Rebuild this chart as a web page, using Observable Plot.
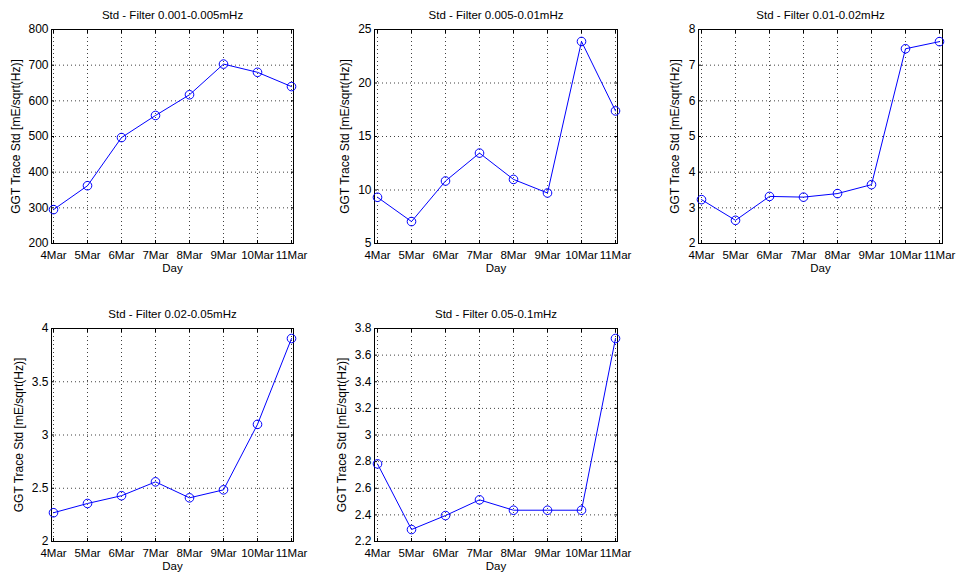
<!DOCTYPE html>
<html><head><meta charset="utf-8">
<script src="https://cdn.jsdelivr.net/npm/d3@7"></script>
<script src="https://cdn.jsdelivr.net/npm/@observablehq/plot@0.6"></script>
<style>
html,body{margin:0;padding:0;background:#fff;}
#wrap{position:relative;width:957px;height:574px;overflow:hidden;background:#fff;}
#wrap svg{position:absolute;}
</style></head><body><div id="wrap"></div>
<script>
const days = ["4Mar","5Mar","6Mar","7Mar","8Mar","9Mar","10Mar","11Mar"];
const titles = ["Std - Filter 0.001-0.005mHz","Std - Filter 0.005-0.01mHz","Std - Filter 0.01-0.02mHz","Std - Filter 0.02-0.05mHz","Std - Filter 0.05-0.1mHz"];
const xLabel = "Day";
const yLabel = "GGT Trace Std [mE/sqrt(Hz)]";

const std1 = [295, 362, 497, 559, 617, 703, 680, 640];
const std2 = [9.32, 7.05, 10.84, 13.45, 10.99, 9.72, 23.88, 17.39];
const std3 = [3.23, 2.65, 3.32, 3.30, 3.40, 3.65, 7.46, 7.66];
const std4 = [2.27, 2.357, 2.43, 2.56, 2.41, 2.485, 3.10, 3.906];
const std5 = [2.783, 2.29, 2.395, 2.513, 2.435, 2.435, 2.435, 3.725];

const ticks1 = [200, 300, 400, 500, 600, 700, 800];
const ticks2 = [5, 10, 15, 20, 25];
const ticks3 = [2, 3, 4, 5, 6, 7, 8];
const ticks4 = [2, 2.5, 3, 3.5, 4];
const ticks5 = [2.2, 2.4, 2.6, 2.8, 3, 3.2, 3.4, 3.6, 3.8];

// layout: frame left, right, top, bottom, y-label offset, right margin
const layout = [
  {L: 51, R: 293, T: 29, B: 243, yOff: 35, mR: 30},
  {L: 374, R: 617, T: 29, B: 243, yOff: 29.5, mR: 30},
  {L: 698, R: 942, T: 29, B: 243, yOff: 23, mR: 15},
  {L: 51, R: 293, T: 328, B: 541, yOff: 32, mR: 30},
  {L: 374, R: 617, T: 328, B: 541, yOff: 32.5, mR: 30}
];
const series = [std1, std2, std3, std4, std5];
const tickSets = [ticks1, ticks2, ticks3, ticks4, ticks5];

const font = "'Liberation Sans', Arial, Helvetica, sans-serif";
const wrap = document.getElementById("wrap");
const blank = () => "";

series.forEach((vals, i) => {
  const lay = layout[i];
  const ticks = tickSets[i];
  const mL = 50, mT = 29, mB = 45, mR = lay.mR;
  const rows = days.map((d, j) => ({day: d, v: vals[j]}));
  const grid = {stroke: "#000", strokeOpacity: 0.75, strokeDasharray: "1,3", strokeWidth: 1};
  const svg = Plot.plot({
    width: lay.R - lay.L + mL + mR,
    height: lay.B - lay.T + mT + mB,
    marginLeft: mL, marginRight: mR, marginTop: mT, marginBottom: mB,
    style: {fontFamily: font, fontSize: "12px", color: "#000", background: "transparent", overflow: "visible"},
    x: {type: "point", domain: days, padding: 0, label: null},
    y: {domain: [ticks[0], ticks[ticks.length - 1]], label: null},
    marks: [
      Plot.gridX(days, grid),
      Plot.gridY(ticks, grid),
      Plot.axisX(days, {anchor: "bottom", tickSize: -3, tickPadding: 10, fontSize: 11.5, label: null}),
      Plot.axisX(days, {anchor: "top", tickSize: -3, tickFormat: blank, label: null}),
      Plot.axisY(ticks, {anchor: "left", tickSize: -3, tickPadding: 6, fontSize: 12, tickFormat: d3.format("~g"), label: null}),
      Plot.axisY(ticks, {anchor: "right", tickSize: -3, tickFormat: blank, label: null}),
      Plot.frame({stroke: "#000", strokeWidth: 1}),
      Plot.line(rows, {x: "day", y: "v", stroke: "#0000ff", strokeWidth: 1}),
      Plot.dot(rows, {x: "day", y: "v", r: 4.3, stroke: "#0000ff", fill: "none", strokeWidth: 1}),
      Plot.text([titles[i]], {text: d => d, frameAnchor: "top", dy: -14, lineAnchor: "middle", textAnchor: "middle", fontSize: 11.5, fill: "#000"}),
      Plot.text([xLabel], {text: d => d, frameAnchor: "bottom", dy: 25, lineAnchor: "middle", textAnchor: "middle", fontSize: 11.5, fill: "#000"}),
      Plot.text([yLabel], {text: d => d, frameAnchor: "left", dx: -lay.yOff, rotate: -90, lineAnchor: "middle", textAnchor: "middle", fontSize: 12, fill: "#000"})
    ]
  });
  svg.style.left = (lay.L - mL) + "px";
  svg.style.top = (lay.T - mT) + "px";
  wrap.appendChild(svg);
});
</script>
</body></html>
